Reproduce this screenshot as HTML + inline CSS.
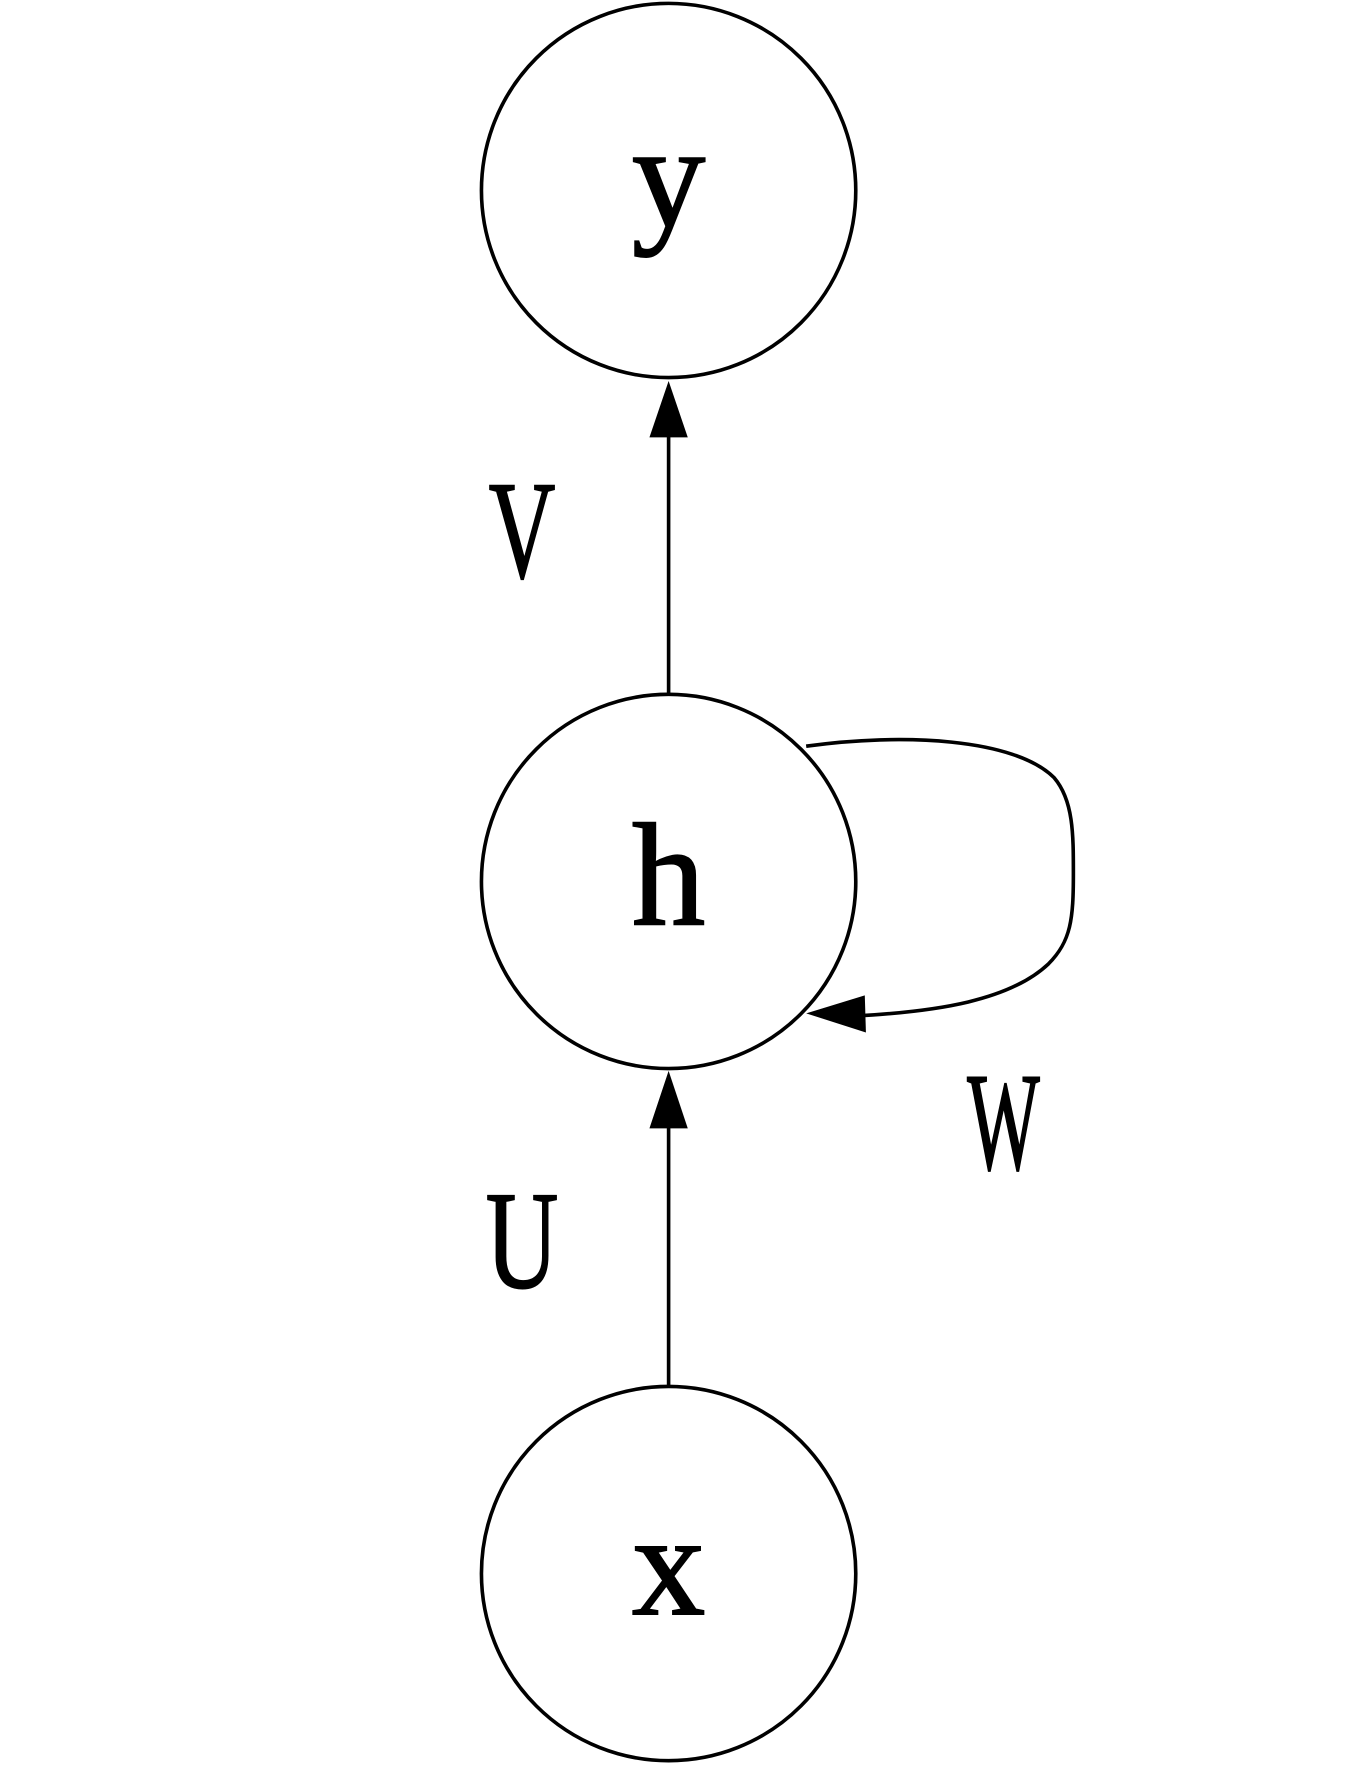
<!DOCTYPE html>
<html><head><meta charset="utf-8"><style>
html,body{margin:0;padding:0;background:#fff;}
svg{display:block;}
text{font-family:"Liberation Serif","DejaVu Serif",serif;fill:#000;stroke:#000;stroke-width:1.6;}
</style></head><body>
<svg width="1353" height="1790" viewBox="0 0 1200 1588" preserveAspectRatio="none">
<g fill="none" stroke="#000" stroke-width="3.2">
<circle cx="593" cy="169" r="166"/>
<circle cx="593" cy="782" r="166"/>
<circle cx="593" cy="1396" r="166"/>
<line x1="593" y1="615" x2="593" y2="385"/>
<line x1="593" y1="1229" x2="593" y2="998"/>
<path d="M715 662 C800 650 900 655 935 690 C952 710 952 740 952 775 C952 815 950 835 930 855 C895 888 830 897 765 901"/>
</g>
<polygon points="593,338 576,388 610,388" fill="#000"/>
<polygon points="593,950 576,1001 610,1001" fill="#000"/>
<polygon points="715,899 767,883 768,916" fill="#000"/>
<text x="593" y="200" font-size="130" text-anchor="middle">y</text>
<text x="593" y="820" font-size="130" text-anchor="middle">h</text>
<text x="593" y="1432" font-size="130" text-anchor="middle">x</text>
<text transform="translate(463,512) scale(0.66,1)" font-size="124" text-anchor="middle">V</text>
<text transform="translate(463,1142) scale(0.72,1)" font-size="124" text-anchor="middle">U</text>
<text transform="translate(890,1037) scale(0.55,1)" font-size="124" text-anchor="middle">W</text>
</svg>
</body></html>
